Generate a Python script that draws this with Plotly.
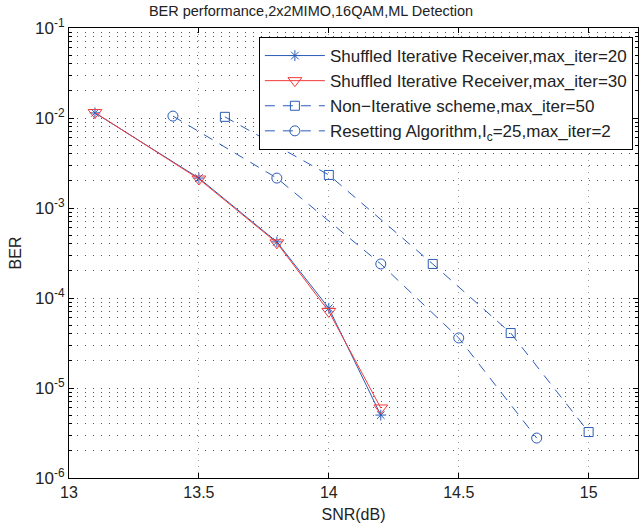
import plotly.graph_objects as go

# Data
snr_shuf20 = [13.1, 13.5, 13.8, 14.0, 14.2]
ber_shuf20 = [1.14e-2, 2.15e-3, 4.2e-4, 7.7e-5, 5.0e-6]

snr_shuf30 = [13.1, 13.5, 13.8, 14.0, 14.2]
ber_shuf30 = [1.15e-2, 2.1e-3, 4.1e-4, 7.1e-5, 6.0e-6]

snr_nonit = [13.6, 14.0, 14.4, 14.7, 15.0]
ber_nonit = [1.03e-2, 2.33e-3, 2.39e-4, 4.08e-5, 3.24e-6]

snr_reset = [13.4, 13.8, 14.2, 14.5, 14.8]
ber_reset = [1.05e-2, 2.15e-3, 2.39e-4, 3.6e-5, 2.78e-6]

names = [
    "Shuffled Iterative Receiver,max_iter=20",
    "Shuffled Iterative Receiver,max_iter=30",
    "Non\u2212Iterative scheme,max_iter=50",
    "Resetting Algorithm,I<sub>c</sub>=25,max_iter=2",
]

x_ticks = [13, 13.5, 14, 14.5, 15]
y_exps = [-6, -5, -4, -3, -2, -1]

BLUE = "#2a5cb8"
RED = "#f23a3a"
FONT = "Liberation Sans, Arial, sans-serif"

fig = go.Figure()
fig.add_trace(go.Scatter(x=snr_shuf20, y=ber_shuf20, name=names[0], mode="lines+markers",
                         line=dict(color=BLUE, width=1),
                         marker=dict(symbol="asterisk-open", size=9, color=BLUE, line=dict(color=BLUE, width=1))))
fig.add_trace(go.Scatter(x=snr_shuf30, y=ber_shuf30, name=names[1], mode="lines+markers",
                         line=dict(color=RED, width=1),
                         marker=dict(symbol="triangle-down-open", size=12, color=RED, line=dict(color=RED, width=1))))
fig.add_trace(go.Scatter(x=snr_nonit, y=ber_nonit, name=names[2], mode="lines+markers",
                         line=dict(color=BLUE, width=1, dash="10px,8px"),
                         marker=dict(symbol="square-open", size=9, color=BLUE, line=dict(color=BLUE, width=1))))
fig.add_trace(go.Scatter(x=snr_reset, y=ber_reset, name=names[3], mode="lines+markers",
                         line=dict(color=BLUE, width=1, dash="10px,8px"),
                         marker=dict(symbol="circle-open", size=10, color=BLUE, line=dict(color=BLUE, width=1))))

minor_vals = [m * 10.0 ** e for e in range(-6, -1) for m in range(2, 10)]

fig.update_layout(
    width=639, height=531,
    margin=dict(l=69, r=1, t=28, b=53),
    paper_bgcolor="white", plot_bgcolor="white",
    font=dict(family=FONT, size=16, color="#222222"),
    title=dict(text="BER performance,2x2MIMO,16QAM,ML Detection", x=311 / 639, xanchor="center",
               y=1 - 11 / 531, yanchor="middle", font=dict(size=14.5)),
    showlegend=True,
    legend=dict(x=0.991, xanchor="right", y=0.98, yanchor="top",
                bgcolor="white", bordercolor="black", borderwidth=1,
                font=dict(size=17), tracegroupgap=0, itemwidth=60),
    xaxis=dict(range=[13, 15.19], tickvals=x_ticks, ticktext=[str(v) for v in x_ticks],
               showline=True, linecolor="black", linewidth=1, mirror="allticks",
               ticks="inside", ticklen=5, tickcolor="black",
               showgrid=True, gridcolor="#9a9a9a", griddash="1px,5px", gridwidth=1,
               zeroline=False, tickfont=dict(size=16),
               title=dict(text="SNR(dB)", standoff=8, font=dict(size=16))),
    yaxis=dict(type="log", range=[-6, -1],
               tickvals=[10.0 ** e for e in y_exps],
               ticktext=["10<sup>%d</sup>" % e for e in y_exps],
               showline=True, linecolor="black", linewidth=1, mirror="allticks",
               ticks="inside", ticklen=5, tickcolor="black",
               showgrid=True, gridcolor="#555555", griddash="1px,7px", gridwidth=1,
               zeroline=False, tickfont=dict(size=17),
               minor=dict(tickvals=minor_vals, ticks="inside", ticklen=3, tickcolor="black",
                          showgrid=True, gridcolor="#555555", griddash="1px,7px", gridwidth=1),
               title=dict(text="BER", standoff=9, font=dict(size=16))),
)

fig.write_html("out.html", config={"displayModeBar": False},
               post_script="document.body.style.margin='0';document.body.style.overflow='hidden';")
